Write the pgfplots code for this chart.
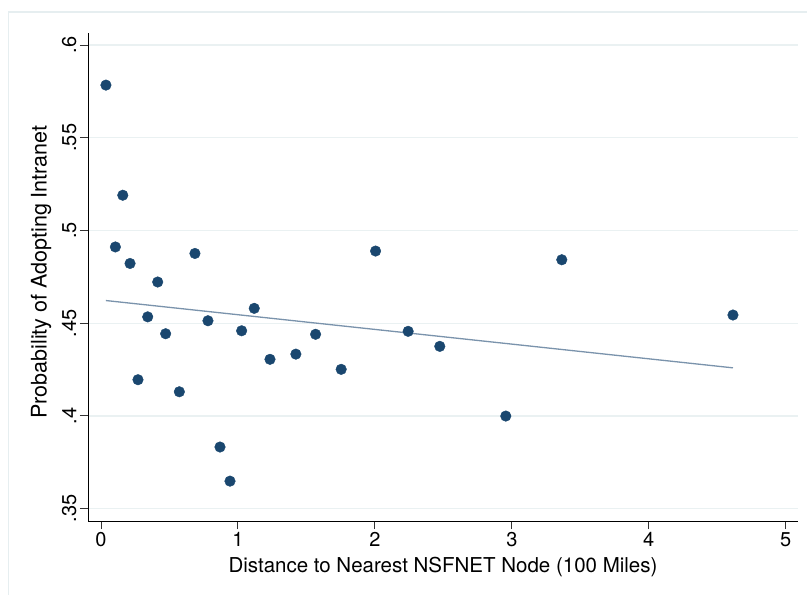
\documentclass[border=0pt]{standalone}
\usepackage{fontspec}
\setmainfont{TeX Gyre Heros}
\usepackage{pgfplots}
\pgfplotsset{compat=1.18}

\definecolor{dotc}{HTML}{1A476F}
\definecolor{fitc}{HTML}{7A93AC}
\definecolor{gridc}{HTML}{EAF1F2}
\definecolor{framec}{HTML}{E6EEF0}

\pgfplotstableread{
x y
0.036 0.5784
0.105 0.4911
0.159 0.5190
0.212 0.4822
0.270 0.4195
0.341 0.4534
0.414 0.4722
0.472 0.4443
0.572 0.4130
0.686 0.4876
0.781 0.4513
0.869 0.3832
0.942 0.3648
1.027 0.4459
1.119 0.4580
1.234 0.4305
1.423 0.4333
1.567 0.4440
1.754 0.4251
2.005 0.4889
2.243 0.4456
2.474 0.4375
2.956 0.3999
3.365 0.4842
4.615 0.4544
}\points

\begin{document}
\begin{tikzpicture}
\useasboundingbox (0,0) rectangle (807pt,595pt);
\fill[white] (0,0) rectangle (807pt,595pt);
\draw[framec, line width=1.5pt] (8.5pt,-20pt) rectangle (830pt,583pt);
\begin{axis}[
    at={(88pt,74pt)}, anchor=south west,
    scale only axis, width=710pt, height=488pt,
    xmin=-0.095, xmax=5.09,
    ymin=0.3433, ymax=0.6065,
    axis x line*=bottom, axis y line*=left,
    axis line style={-, black, line width=0.9pt},
    xtick={0,1,2,3,4,5},
    ytick={0.35,0.4,0.45,0.5,0.55,0.6},
    yticklabels={.35,.4,.45,.5,.55,.6},
    tick align=outside, major tick length=8pt,
    tick style={black!80, line width=0.9pt},
    ymajorgrids, major grid style={gridc, line width=1.3pt},
    /pgf/number format/assume math mode=true,
    tick label style={font=\fontsize{20}{23}\selectfont},
    yticklabel style={rotate=90, anchor=south},
    xlabel={Distance to Nearest NSFNET Node (100 Miles)},
    ylabel={Probability of Adopting Intranet},
    xlabel style={font=\fontsize{20.5}{24}\selectfont,
        at={(axis description cs:0.5,-0.094)}, anchor=center},
    ylabel style={font=\fontsize{21.5}{25}\selectfont,
        at={(axis description cs:-0.066,0.51)}, anchor=center},
    clip=false,
]
\addplot[no marks, fitc, line width=1.3pt] coordinates {(0.036,0.4622) (4.615,0.4259)};
\addplot[only marks, mark=*, mark size=5.3pt, color=dotc] table[x=x, y=y] {\points};
\end{axis}
\end{tikzpicture}
\end{document}
